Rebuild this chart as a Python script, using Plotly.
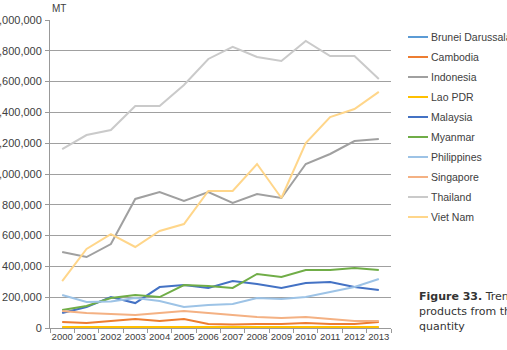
import plotly.graph_objects as go

years = [str(y) for y in range(2000, 2014)]

brunei      = [2000, 2000, 2000, 2000, 2000, 2000, 2000, 2000, 2000, 2000, 2000, 2000, 2000, 2000]
cambodia    = [39000, 32000, 45000, 58000, 45000, 58000, 26000, 22000, 26000, 26000, 32000, 26000, 26000, 39000]
indonesia   = [494000, 461000, 545000, 838000, 883000, 825000, 883000, 812000, 870000, 844000, 1065000, 1130000, 1214000, 1227000]
lao         = [7000, 7000, 7000, 7000, 7000, 7000, 7000, 7000, 7000, 7000, 7000, 7000, 7000, 7000]
malaysia    = [97000, 136000, 201000, 162000, 266000, 279000, 260000, 305000, 286000, 260000, 292000, 299000, 266000, 247000]
myanmar     = [117000, 143000, 195000, 214000, 201000, 279000, 273000, 260000, 351000, 331000, 377000, 377000, 390000, 377000]
philippines = [214000, 169000, 172000, 195000, 175000, 136000, 149000, 156000, 195000, 188000, 201000, 234000, 266000, 318000]
singapore   = [110000, 97000, 91000, 84000, 97000, 110000, 97000, 84000, 71000, 65000, 71000, 58000, 45000, 45000]
thailand    = [1162000, 1253000, 1286000, 1442000, 1442000, 1578000, 1747000, 1825000, 1760000, 1734000, 1864000, 1766000, 1766000, 1617000]
vietnam     = [305000, 513000, 610000, 526000, 630000, 675000, 890000, 890000, 1065000, 844000, 1201000, 1370000, 1422000, 1533000]

names = ["Brunei Darussalam", "Cambodia", "Indonesia", "Lao PDR", "Malaysia",
         "Myanmar", "Philippines", "Singapore", "Thailand", "Viet Nam"]
series = [brunei, cambodia, indonesia, lao, malaysia, myanmar, philippines, singapore, thailand, vietnam]
colors = ["#5B9BD5", "#ED7D31", "#A0A0A0", "#FFC000", "#4472C4",
          "#70AD47", "#9DC3E6", "#F4B183", "#CACACA", "#FFD68A"]

yticks = list(range(0, 2000001, 200000))

fig = go.Figure()
for n, s, c in zip(names, series, colors):
    fig.add_trace(go.Scatter(x=years, y=s, name=n, mode="lines",
                             line=dict(color=c, width=2), showlegend=False))

font = "Liberation Sans, Arial, sans-serif"
fig.update_layout(
    width=507, height=350,
    margin=dict(l=50, r=116, t=20, b=22),
    paper_bgcolor="white", plot_bgcolor="white",
    font=dict(family=font, size=10, color="#404040"),
    xaxis=dict(type="category", tickson="boundaries", ticks="outside", ticklen=4,
               tickcolor="#999999", showline=True, linecolor="#999999", linewidth=1,
               showgrid=False, range=[-0.5, 13.5], automargin=False, tickangle=0,
               tickfont=dict(size=9.5, color="#404040")),
    yaxis=dict(range=[0, 2000000], tickvals=yticks, tickformat=",", ticks="outside",
               ticklen=4, tickcolor="#999999", showline=True, linecolor="#999999",
               linewidth=1, showgrid=True, gridcolor="#a0a0a0", gridwidth=1,
               zeroline=False, automargin=False, ticklabelstandoff=1,
               tickfont=dict(size=11, color="#404040")),
)

# MT unit label
fig.add_annotation(text="MT", xref="paper", yref="paper", x=0.0, y=1.0,
                   xanchor="left", yanchor="bottom", yshift=4, showarrow=False,
                   font=dict(size=10, color="#404040", family=font))

# manual legend (Excel-style short line samples)
pw = 507 - 50 - 116
ph = 350 - 20 - 22
def px2x(px):
    return (px - 50) / pw
def py2y(py):
    return (350 - 22 - py) / ph

for i, (n, c) in enumerate(zip(names, colors)):
    yc = 37 + 20 * i
    fig.add_shape(type="line", xref="paper", yref="paper",
                  x0=px2x(408), x1=px2x(428), y0=py2y(yc), y1=py2y(yc),
                  line=dict(color=c, width=2))
    fig.add_annotation(text=n, xref="paper", yref="paper", x=px2x(429), y=py2y(yc),
                       xanchor="left", yanchor="middle", showarrow=False,
                       font=dict(size=10.5, color="#404040", family=font))

# figure caption (cut by the page edge as in the source)
cap_font = dict(size=11, color="#333333", family="DejaVu Sans, sans-serif")
caption = ["<b>Figure 33.</b> Trends in", "products from the", "quantity"]
for i, line in enumerate(caption):
    fig.add_annotation(text=line, xref="paper", yref="paper", x=px2x(417),
                       y=py2y(296 + 15 * i), xanchor="left", yanchor="middle",
                       showarrow=False, font=cap_font)

fig.write_html("out.html")
